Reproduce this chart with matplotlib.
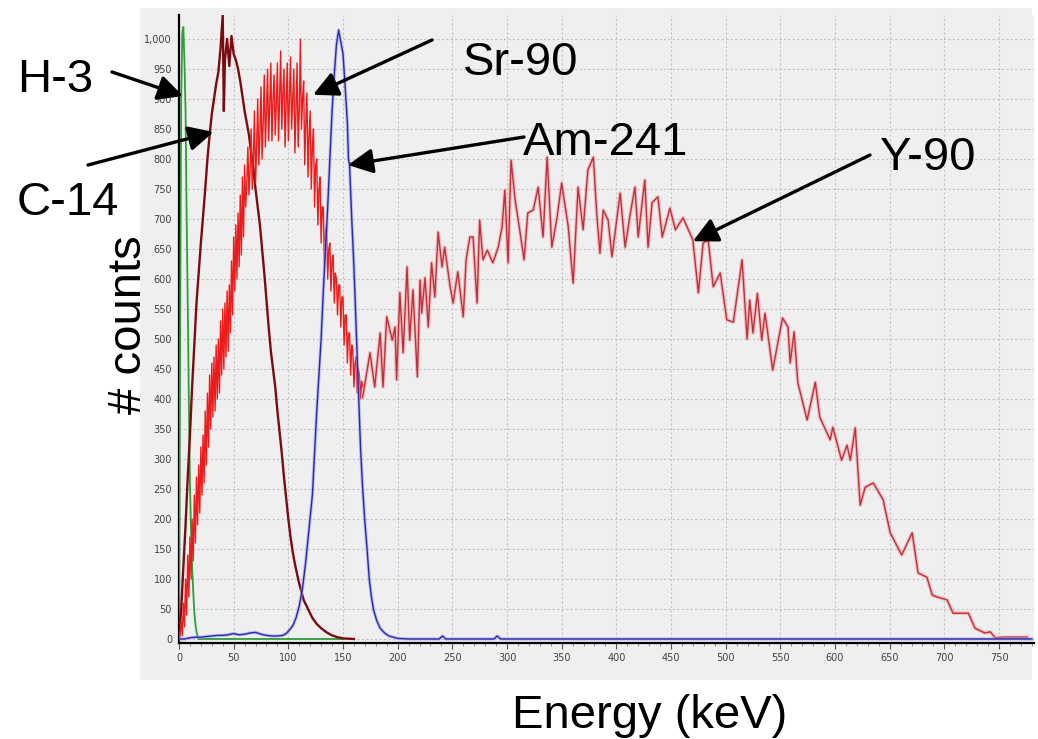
import matplotlib
matplotlib.use("Agg")
import matplotlib.pyplot as plt
from matplotlib.patches import Rectangle
from matplotlib.ticker import MultipleLocator, FuncFormatter

# H-3 (green)
h3_kev = [0, 1, 2, 3, 4, 5, 6, 7, 8, 9, 10, 11, 12, 13, 14, 15, 16, 17, 18, 40, 150]
h3_counts = [0, 500, 900, 1010, 1020, 960, 880, 700, 560, 400, 260, 180, 120, 80, 45, 25, 12, 4, 0, 0, 0]

# C-14 (maroon)
c14_kev = [0, 2, 4, 6, 8, 10, 12, 14, 16, 18, 20, 22, 24, 26, 28, 30, 32, 34, 36, 38, 40,
           41, 42, 44, 46, 48, 50, 52, 54, 56, 58, 60, 62, 64, 66, 68, 70, 72, 74, 76,
           78, 80, 82, 84, 86, 88, 90, 92, 94, 96, 98, 100, 102, 104, 106, 108, 110, 114,
           118, 122, 126, 130, 135, 140, 145, 150, 160]
c14_counts = [0, 50, 120, 190, 270, 340, 420, 490, 560, 610, 660, 705, 750, 800, 840, 875,
              900, 925, 945, 985, 1040, 880, 965, 1000, 955, 1005, 975, 965, 950, 930, 905,
              880, 860, 840, 810, 785, 750, 720, 690, 650, 610, 565, 520, 480, 450, 420, 380,
              345, 310, 270, 235, 200, 170, 145, 125, 108, 92, 65, 50, 35, 25, 18, 11,
              6, 3, 1, 0]

# Sr-90 (bright red, noisy), 1 keV channels
sr90_kev = list(range(0, 169))
sr90_counts = [0, 10, 30, 5, 60, 20, 100, 40, 140, 70,
               170, 100, 200, 130, 240, 160, 270, 190, 290, 210,
               320, 240, 340, 260, 380, 290, 410, 320, 440, 350,
               460, 370, 470, 380, 490, 400, 500, 410, 530, 440,
               550, 450, 560, 470, 580, 480, 590, 510, 630, 540,
               670, 580, 690, 600, 710, 620, 740, 640, 770, 670,
               790, 720, 760, 820, 740, 780, 850, 750, 800, 880,
               760, 820, 900, 790, 840, 920, 800, 860, 940, 820,
               880, 950, 830, 890, 960, 830, 900, 940, 840, 890,
               960, 830, 900, 980, 850, 910, 950, 820, 890, 960,
               830, 900, 970, 850, 900, 950, 810, 880, 960, 820,
               880, 1000, 850, 900, 930, 790, 860, 910, 770, 840,
               880, 750, 820, 850, 720, 790, 800, 690, 750, 770,
               660, 720, 720, 620, 680, 690, 600, 650, 660, 580,
               630, 640, 560, 610, 600, 540, 590, 590, 520, 570,
               570, 490, 540, 540, 460, 510, 510, 440, 490, 480,
               420, 460, 470, 410, 450, 440, 400, 430, 420]

# Y-90 (red, long tail)
y90_kev = [168, 174.7, 179, 184, 186.6, 190, 195, 197.6, 199, 202, 205, 208.6, 211, 214, 218,
           220.5, 222, 225, 228, 231, 234, 237, 240.6, 243, 248, 250.7, 255, 260, 262.6, 266,
           269, 272.6, 275, 278, 282, 287, 292, 295.5, 298, 301, 303.7, 307.4, 312, 315.6,
           319, 324, 328.5, 333, 336.7, 341, 345.8, 350, 356, 360.5, 365, 369.6, 374, 379,
           382, 385, 388, 392.5, 396, 403.5, 408, 412.6, 417, 420, 426, 429, 432.7, 438, 442,
           449, 454, 461, 470, 475, 479.4, 484, 488.6, 495, 501, 507, 515, 519.6, 522, 525,
           529, 533, 536, 543, 552, 557, 559, 562.6, 566, 574.5, 582, 586, 595.6, 598, 606,
           611, 614, 618.5, 623, 627.6, 635, 644, 650.5, 661, 670.6, 676, 684, 689, 693.5,
           702.6, 708, 717, 722, 728, 737, 742, 746.5, 754, 776]
y90_counts = [403, 477, 420, 510, 420, 537, 498, 520, 432, 577, 477, 620, 498, 582, 437,
              598, 543, 602, 520, 627, 570, 678, 620, 653, 587, 560, 612, 537, 632, 670,
              670, 560, 698, 632, 648, 627, 653, 687, 748, 627, 798, 732, 677, 632,
              710, 715, 753, 670, 803, 653, 703, 760, 687, 593, 753, 682, 782, 803,
              710, 643, 715, 698, 637, 743, 653, 707, 753, 670, 765, 653, 727, 737, 670,
              718, 682, 702, 665, 577, 660, 665, 587, 610, 532, 528, 632, 500, 565, 510,
              576, 498, 543, 448, 535, 520, 460, 512, 427, 365, 428, 370, 332, 353, 298,
              323, 298, 352, 223, 253, 260, 232, 177, 140, 177, 110, 103, 73, 70,
              65, 43, 43, 43, 18, 10, 12, 2, 3, 3]

# Am-241 (blue)
am241_kev = [0, 5, 10, 15, 20, 25, 30, 35, 40, 45, 50, 55, 60, 65, 70, 75, 80, 85, 90, 95, 98,
             101, 104, 107, 110, 113, 116, 119, 122, 124, 126, 128, 130, 132, 134, 136, 138,
             140, 142, 144, 146, 148, 150, 152, 154, 155, 156, 158, 160, 162, 164, 166, 168,
             170, 172, 174, 176, 178, 181, 184, 188, 192, 196, 200, 210, 238, 241, 244, 288,
             291, 294, 780]
am241_counts = [0, 0, 2, 3, 3, 4, 5, 6, 6, 7, 9, 7, 8, 10, 11, 8, 6, 5, 5, 6, 9, 15, 22, 35,
                55, 85, 130, 185, 240, 310, 380, 440, 500, 580, 650, 720, 800, 880, 940, 990,
                1015, 995, 975, 920, 860, 800, 790, 700, 620, 520, 420, 320, 250, 195, 150,
                100, 70, 48, 30, 18, 10, 5, 3, 1, 0, 0, 5, 0, 0, 5, 0, 0]

ytick_vals = list(range(0, 1001, 50))
xtick_vals = list(range(0, 751, 50))

bg = "#efefef"
fig = plt.figure(figsize=(10.38, 7.39), dpi=100)
fig.patches.append(Rectangle((140 / 1038, 59 / 739), 892 / 1038, 672 / 739,
                             transform=fig.transFigure, facecolor=bg, edgecolor="none",
                             zorder=-10))

ax = fig.add_axes([179 / 1038, 96 / 739, 855 / 1038, 628 / 739])
ax.set_facecolor(bg)

ax.plot(h3_kev, h3_counts, color="#2e9e3a", lw=1.3, zorder=3)
ax.plot(c14_kev, c14_counts, color="#7a0c10", lw=1.7, zorder=3)
ax.plot(sr90_kev, sr90_counts, color="#ec1c1c", lw=1.0, zorder=4)
ax.plot(y90_kev, y90_counts, color="#f09aa0", lw=2.6, alpha=0.6, zorder=4)
ax.plot(y90_kev, y90_counts, color="#c0303a", lw=1.0, zorder=4)
ax.plot(am241_kev, am241_counts, color="#a0a0e8", lw=2.4, alpha=0.6, zorder=5)
ax.plot(am241_kev, am241_counts, color="#2828b0", lw=1.0, zorder=5)

ax.set_xlim(0, 782)
ax.set_ylim(-6.7, 1040)
ax.set_xticks(xtick_vals)
ax.set_yticks(ytick_vals)
ax.xaxis.set_minor_locator(MultipleLocator(10))
ax.yaxis.set_major_formatter(FuncFormatter(lambda v, p: "{:,.0f}".format(v)))
ax.grid(True, which="major", color="#c4c4c4", lw=0.8, linestyle=(0, (2, 2)))
ax.set_axisbelow(True)
ax.tick_params(axis="y", length=0, pad=5, labelsize=7, labelcolor="#404040")
ax.tick_params(axis="x", which="major", length=4, pad=3, labelsize=7, labelcolor="#404040",
               color="#555555")
ax.tick_params(axis="x", which="minor", length=2.5, color="#777777")
for s in ["top", "right"]:
    ax.spines[s].set_visible(False)
for s in ["left", "bottom"]:
    ax.spines[s].set_color("black")
    ax.spines[s].set_linewidth(1.6)

big = dict(fontsize=34, family="Liberation Sans", color="black")
fig.text(129 / 1038, 1 - 325 / 739, "# counts", rotation=90, ha="center", va="center", **big)
fig.text(650 / 1038, 11 / 739, "Energy (keV)", ha="center", va="baseline", **big)

labels = [("H-3", 55, 92), ("Sr-90", 521, 75), ("Am-241", 606, 155), ("C-14", 68, 215),
          ("Y-90", 928, 170)]
for name, px, py in labels:
    fig.text(px / 1038, 1 - py / 739, name, ha="center", va="baseline", **big)

arrows = [((3.7, 905), (112, 667)),
          ((122.6, 907), (432, 699)),
          ((154.5, 790), (524, 602)),
          ((31.5, 845), (88, 574)),
          ((470, 663), (870, 584))]
aprops = dict(arrowstyle="-|>,head_length=0.6,head_width=0.3", color="black", lw=2.4,
              mutation_scale=25, shrinkA=0, shrinkB=0)
for head, tail in arrows:
    ax.annotate("", xy=head, xycoords="data", xytext=tail, textcoords="figure pixels",
                arrowprops=aprops, annotation_clip=False, zorder=10)

fig.savefig("out.png", dpi=100, facecolor="white")
